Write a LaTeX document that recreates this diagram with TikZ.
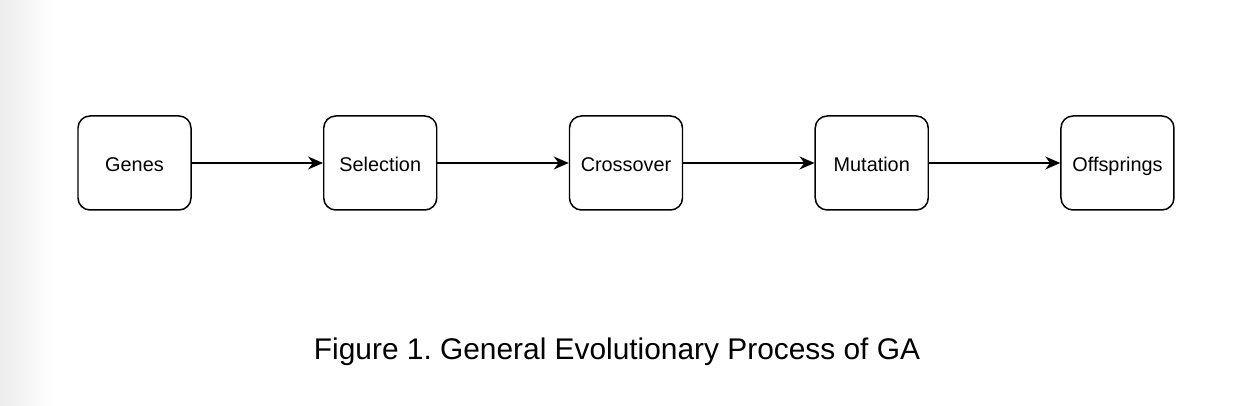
\documentclass[tikz,border=0pt]{standalone}
\usepackage{fontspec}
\setmainfont{Liberation Sans}
\usetikzlibrary{positioning,arrows.meta}

\tikzset{
    stage/.style={draw, line width=0.85pt, rounded corners=0.24cm,
        minimum width=2.26cm, minimum height=1.88cm, text height=1.9ex, text depth=0.1ex,
        font=\fontsize{11.3}{13}\selectfont},
    flow/.style={-{Stealth[length=0.3cm,width=0.26cm]}, line width=0.85pt}
}

\begin{document}
\frenchspacing
\begin{tikzpicture}
        \useasboundingbox (0,0) rectangle (24.72,8.12);
        \shade[left color=gray!22, right color=white] (-0.5,0) rectangle (1.05,8.12);

        \node[stage] (genes) at (2.69, 4.86) {Genes};
        \node[stage, right=2.625cm of genes] (selection) {Selection};
        \node[stage, right=2.625cm of selection] (crossover) {Crossover};
        \node[stage, right=2.625cm of crossover] (mutation) {Mutation};
        \node[stage, right=2.625cm of mutation] (offsprings) {Offsprings};

        \draw[flow] (genes) -- (selection);
        \draw[flow] (selection) -- (crossover);
        \draw[flow] (crossover) -- (mutation);
        \draw[flow] (mutation) -- (offsprings);

        \node[font=\fontsize{17}{20}\selectfont] (caption) at (12.34, 1.08)
            {Figure 1. General Evolutionary Process of GA};

    \end{tikzpicture}
\end{document}
